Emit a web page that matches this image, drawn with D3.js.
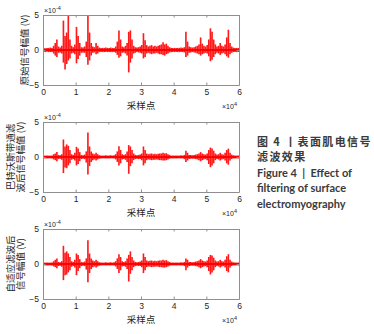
<!DOCTYPE html>
<html>
<head>
<meta charset="utf-8">
<script src="https://cdn.jsdelivr.net/npm/d3@7/dist/d3.min.js"></script>
<style>
  body { margin: 0; background: #fff; }
  .tick text { font: 8.5px "Liberation Sans", Arial, sans-serif; fill: #262626; }
  .cjk { font-family: "Noto Sans CJK SC", sans-serif; }
  .exp { font: 7px "Liberation Sans", Arial, sans-serif; fill: #262626; }
  .cap-cn { font: bold 11px "Noto Sans CJK SC", sans-serif; fill: #3a3a3a; letter-spacing: 1.4px; }
  .cap-en { font: bold 11px Lato, "Open Sans", sans-serif; fill: #3a3a3a; }
</style>
</head>
<body>
<script>
// x ticks in units of 10^4 samples, y ticks in units of 10^-4 V
const xTicks = [0, 1, 2, 3, 4, 5, 6];
const yTicks = [-5, 0, 5];
const binSize = 500; // samples per envelope bin, 120 bins = 60000 samples

// envelope (max / min per bin) of each signal, x10^-4 V
const rawHigh = [
  0.3, 0.25, 0.3, 0.3, 0.35, 0.3, 0.6, 1.0, 1.5, 0.5,
  0.35, 0.6, 4.2, 2.0, 2.5, 4.9, 1.5, 0.6, 0.4, 0.8,
  3.3, 2.0, 1.0, 0.4, 0.35, 0.5, 1.2, 4.9, 2.5, 1.0,
  0.5, 0.4, 1.0, 0.6, 0.35, 0.3, 0.3, 0.3, 0.35, 0.3,
  0.3, 0.35, 0.3, 0.3, 0.5, 1.2, 2.8, 1.5, 0.5, 0.4,
  0.6, 1.0, 2.6, 2.8, 1.5, 0.6, 0.4, 0.35, 0.4, 0.5,
  0.7, 2.4, 1.4, 0.7, 0.5, 0.6, 0.7, 0.5, 0.6, 0.5,
  0.6, 0.7, 0.8, 1.1, 0.8, 0.9, 0.6, 0.4, 0.3, 0.3,
  0.3, 0.3, 0.3, 0.3, 0.35, 0.3, 0.4, 2.6, 1.2, 0.5,
  0.4, 0.35, 0.4, 0.5, 0.6, 0.8, 1.8, 0.9, 0.6, 0.5,
  0.7, 1.5, 3.1, 2.6, 1.5, 0.8, 0.5, 0.6, 1.0, 0.6,
  0.5, 0.8, 1.8, 2.9, 1.0, 0.5, 0.35, 0.3, 0.3, 0.3
];
const rawLow = [
  -0.3, -0.3, -0.25, -0.3, -0.3, -0.3, -0.5, -0.8, -1.0, -0.4,
  -0.35, -0.5, -1.8, -2.8, -2.0, -1.5, -1.2, -0.5, -0.4, -0.6,
  -1.9, -1.3, -0.8, -0.4, -0.35, -0.4, -1.0, -2.1, -1.5, -0.8,
  -0.4, -0.35, -0.6, -0.5, -0.3, -0.3, -0.3, -0.3, -0.3, -0.3,
  -0.3, -0.3, -0.3, -0.3, -0.4, -0.7, -1.1, -0.9, -0.4, -0.35,
  -0.5, -0.8, -3.2, -1.8, -1.2, -0.5, -0.4, -0.3, -0.35, -0.4,
  -0.5, -1.2, -1.0, -0.5, -0.4, -0.5, -0.6, -0.5, -0.5, -0.4,
  -0.5, -0.6, -0.6, -0.7, -0.8, -0.6, -0.5, -0.35, -0.3, -0.3,
  -0.3, -0.3, -0.3, -0.3, -0.3, -0.3, -0.35, -1.0, -0.8, -0.4,
  -0.35, -0.3, -0.35, -0.4, -0.5, -0.6, -0.8, -0.6, -0.5, -0.4,
  -0.5, -0.9, -1.6, -1.4, -1.0, -0.6, -0.4, -0.5, -0.7, -0.5,
  -0.4, -0.6, -0.9, -1.1, -0.6, -0.4, -0.3, -0.3, -0.3, -0.3
];
const butterHigh = [
  0.2, 0.2, 0.2, 0.2, 0.2, 0.2, 0.4, 0.5, 0.7, 0.3,
  0.25, 0.4, 2.5, 1.5, 1.8, 1.6, 1.0, 0.4, 0.3, 0.6,
  1.45, 1.2, 0.7, 0.3, 0.25, 0.35, 0.8, 3.5, 1.5, 0.8,
  0.5, 0.4, 0.6, 0.4, 0.25, 0.2, 0.2, 0.2, 0.25, 0.2,
  0.2, 0.25, 0.2, 0.25, 0.4, 0.8, 1.55, 1.0, 0.4, 0.3,
  0.4, 0.8, 1.7, 1.5, 1.0, 0.5, 0.3, 0.25, 0.3, 0.35,
  0.5, 1.5, 1.0, 0.5, 0.4, 0.45, 0.5, 0.4, 0.45, 0.4,
  0.45, 0.5, 0.5, 0.6, 0.5, 0.55, 0.4, 0.3, 0.2, 0.2,
  0.2, 0.2, 0.2, 0.2, 0.25, 0.2, 0.3, 0.9, 0.6, 0.3,
  0.3, 0.25, 0.3, 0.35, 0.4, 0.5, 0.7, 0.5, 0.4, 0.35,
  0.5, 1.0, 1.35, 1.2, 0.9, 0.5, 0.35, 0.4, 0.6, 0.4,
  0.35, 0.6, 1.0, 1.2, 0.6, 0.35, 0.25, 0.2, 0.2, 0.2
];
const butterLow = [
  -0.2, -0.2, -0.2, -0.2, -0.2, -0.2, -0.35, -0.45, -0.6, -0.3,
  -0.25, -0.4, -2.3, -1.5, -1.6, -1.2, -0.9, -0.4, -0.3, -0.5,
  -1.2, -1.0, -0.6, -0.3, -0.25, -0.3, -0.8, -2.5, -1.3, -0.7,
  -0.45, -0.35, -0.5, -0.35, -0.25, -0.2, -0.2, -0.2, -0.2, -0.2,
  -0.2, -0.2, -0.2, -0.2, -0.35, -0.7, -1.2, -0.9, -0.35, -0.3,
  -0.4, -0.7, -2.4, -1.3, -0.9, -0.45, -0.3, -0.25, -0.3, -0.3,
  -0.45, -1.2, -0.9, -0.45, -0.35, -0.4, -0.45, -0.4, -0.4, -0.35,
  -0.4, -0.45, -0.45, -0.5, -0.5, -0.45, -0.35, -0.25, -0.2, -0.2,
  -0.2, -0.2, -0.2, -0.2, -0.2, -0.2, -0.3, -0.7, -0.5, -0.3,
  -0.25, -0.25, -0.25, -0.3, -0.35, -0.45, -0.6, -0.45, -0.35, -0.3,
  -0.45, -1.0, -1.45, -1.2, -0.9, -0.45, -0.3, -0.35, -0.5, -0.35,
  -0.3, -0.5, -0.9, -1.1, -0.5, -0.3, -0.2, -0.2, -0.2, -0.2
];
const adaptHigh = [
  0.2, 0.2, 0.2, 0.2, 0.2, 0.2, 0.4, 0.6, 0.8, 0.3,
  0.25, 0.4, 2.6, 1.6, 1.8, 1.5, 1.0, 0.4, 0.3, 0.6,
  1.5, 1.3, 0.7, 0.3, 0.25, 0.35, 0.8, 3.4, 1.5, 0.8,
  0.5, 0.4, 0.6, 0.4, 0.25, 0.2, 0.2, 0.2, 0.25, 0.2,
  0.2, 0.25, 0.2, 0.25, 0.4, 0.8, 1.4, 1.0, 0.4, 0.3,
  0.4, 0.8, 1.3, 1.8, 1.0, 0.5, 0.3, 0.25, 0.3, 0.35,
  0.5, 1.5, 1.0, 0.5, 0.4, 0.45, 0.5, 0.4, 0.45, 0.4,
  0.45, 0.5, 0.5, 0.6, 0.5, 0.55, 0.4, 0.3, 0.2, 0.2,
  0.2, 0.2, 0.2, 0.2, 0.25, 0.2, 0.3, 0.8, 0.6, 0.3,
  0.3, 0.25, 0.3, 0.35, 0.4, 0.5, 0.7, 0.5, 0.4, 0.35,
  0.5, 1.0, 1.3, 1.2, 0.9, 0.5, 0.35, 0.4, 0.6, 0.4,
  0.35, 0.6, 1.1, 1.4, 0.6, 0.35, 0.25, 0.2, 0.2, 0.2
];
const adaptLow = [
  -0.2, -0.2, -0.2, -0.2, -0.2, -0.2, -0.35, -0.45, -0.6, -0.3,
  -0.25, -0.4, -2.3, -1.6, -1.5, -1.2, -0.9, -0.4, -0.3, -0.5,
  -1.6, -1.0, -0.6, -0.3, -0.25, -0.3, -0.8, -2.6, -1.3, -0.7,
  -0.45, -0.35, -0.5, -0.35, -0.25, -0.2, -0.2, -0.2, -0.2, -0.2,
  -0.2, -0.2, -0.2, -0.2, -0.35, -0.7, -1.3, -0.9, -0.35, -0.3,
  -0.4, -0.7, -2.5, -1.4, -0.9, -0.45, -0.3, -0.25, -0.3, -0.3,
  -0.45, -1.3, -0.9, -0.45, -0.35, -0.4, -0.45, -0.4, -0.4, -0.35,
  -0.4, -0.45, -0.45, -0.5, -0.5, -0.45, -0.35, -0.25, -0.2, -0.2,
  -0.2, -0.2, -0.2, -0.2, -0.2, -0.2, -0.3, -0.9, -0.5, -0.3,
  -0.25, -0.25, -0.25, -0.3, -0.35, -0.45, -0.6, -0.45, -0.35, -0.3,
  -0.45, -1.0, -1.5, -1.2, -0.9, -0.45, -0.3, -0.35, -0.5, -0.35,
  -0.3, -0.5, -1.0, -1.2, -0.5, -0.3, -0.2, -0.2, -0.2, -0.2
];

const yLabels = [
  ['原始信号幅值 (V)'],
  ['巴特沃斯带通滤', '波后信号幅值 (V)'],
  ['自适应滤波后', '信号幅值 (V)']
];
const xLabel = '采样点';
const captionCn = ['图 4 丨表面肌电信号', '滤波效果'];
const captionEn = ['Figure 4  |  Effect of', 'filtering of surface', 'electromyography'];

const width = 374, height = 334;
const left = 43, right = 239, plotH = 70;
const tops = [15, 122, 229];
const signals = [[rawHigh, rawLow], [butterHigh, butterLow], [adaptHigh, adaptLow]];

const svg = d3.select('body').append('svg')
  .attr('width', width)
  .attr('height', height);

const x = d3.scaleLinear().domain([0, 60000]).range([left, right]);

signals.forEach(([hi, lo], k) => {
  const top = tops[k];
  const y = d3.scaleLinear().domain([-5, 5]).range([top + plotH, top]);
  const g = svg.append('g');

  // signal drawn as one vertical stroke per bin, from its min to its max
  const bins = hi.map((h, i) => ({ s: i * binSize + binSize / 2, hi: h, lo: lo[i] }));
  const step = x(binSize) - x(0);
  g.append('g').selectAll('line').data(bins).join('line')
    .attr('x1', d => x(d.s)).attr('x2', d => x(d.s))
    .attr('y1', d => y(d.hi)).attr('y2', d => y(d.lo))
    .attr('stroke', '#ff0000')
    .attr('stroke-opacity', 0.9)
    .attr('stroke-width', step);
  // dense core along zero
  g.append('line')
    .attr('x1', left).attr('x2', right)
    .attr('y1', y(0)).attr('y2', y(0))
    .attr('stroke', '#ff0000').attr('stroke-width', 2.2);

  const xt = xTicks.map(t => t * 1e4);
  const axes = [
    [d3.axisBottom(x).tickValues(xt).tickFormat(d => d / 1e4), top + plotH],
    [d3.axisTop(x).tickValues(xt).tickFormat(''), top]
  ];
  axes.forEach(([ax, pos]) => {
    g.append('g').attr('transform', `translate(0,${pos})`)
      .call(ax.tickSizeInner(-2.5).tickSizeOuter(0).tickPadding(4));
  });
  g.append('g').attr('transform', `translate(${left},0)`)
    .call(d3.axisLeft(y).tickValues(yTicks).tickSizeInner(-2.5).tickSizeOuter(0).tickPadding(4));
  g.append('g').attr('transform', `translate(${right},0)`)
    .call(d3.axisRight(y).tickValues(yTicks).tickFormat('').tickSizeInner(-2.5).tickSizeOuter(0));
  g.selectAll('.domain, .tick line').attr('stroke', '#8f8f8f');

  // exponent labels
  const e1 = g.append('text').attr('class', 'exp').attr('x', left + 1).attr('y', top - 2.5);
  e1.append('tspan').text('×10');
  e1.append('tspan').attr('dy', -3).style('font-size', '5.5px').text('-4');
  const e2 = g.append('text').attr('class', 'exp').attr('x', right - 17).attr('y', top + plotH + 24);
  e2.append('tspan').text('×10');
  e2.append('tspan').attr('dy', -3).style('font-size', '5.5px').text('4');

  g.append('text').attr('class', 'cjk')
    .attr('x', (left + right) / 2).attr('y', top + plotH + 24)
    .attr('text-anchor', 'middle')
    .style('font-size', '9.5px').style('fill', '#262626')
    .text(xLabel);

  const lines = yLabels[k];
  const cx = lines.length === 1 ? 25 : 16;
  lines.forEach((s, j) => {
    const lx = cx + (j - (lines.length - 1) / 2) * 10 + 3;
    g.append('text').attr('class', 'cjk')
      .attr('transform', `translate(${lx},${top + plotH / 2}) rotate(-90)`)
      .attr('text-anchor', 'middle')
      .style('font-size', '9.5px').style('fill', '#262626')
      .text(s);
  });
});

const cap = svg.append('g');
captionCn.forEach((s, i) => {
  cap.append('text').attr('class', 'cap-cn').attr('x', 257).attr('y', 146 + i * 15).text(s);
});
captionEn.forEach((s, i) => {
  cap.append('text').attr('class', 'cap-en').attr('x', 257).attr('y', 176.5 + i * 15.5)
    .style('white-space', 'pre').text(s);
});
</script>
</body>
</html>
